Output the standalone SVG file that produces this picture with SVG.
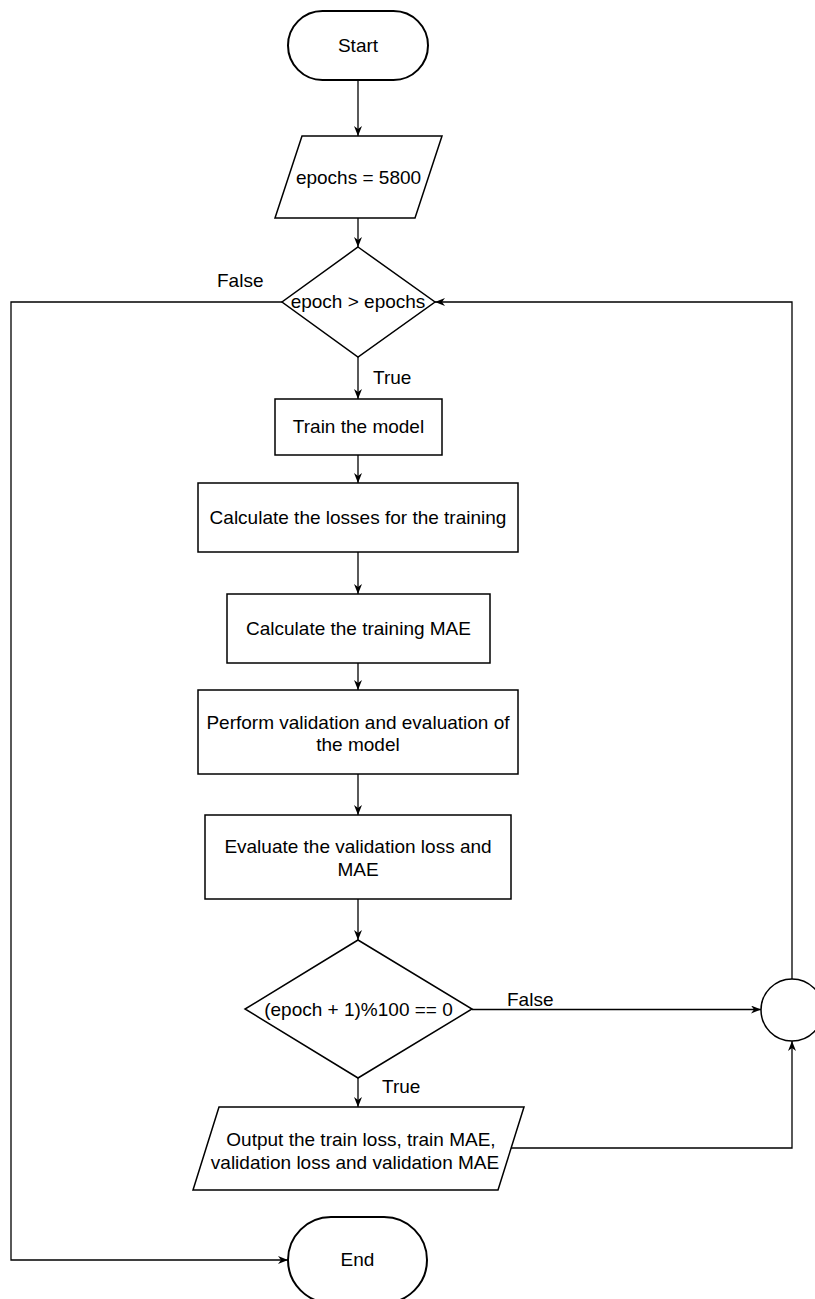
<svg xmlns="http://www.w3.org/2000/svg" width="815" height="1299" viewBox="0 0 815 1299">
<style>
.shape{fill:#fff;stroke:#000;stroke-width:1.5}
.term{fill:#fff;stroke:#000;stroke-width:2}
.conn{fill:none;stroke:#000;stroke-width:1.3}
text{font-family:"Liberation Sans",Arial,sans-serif;font-size:19px;fill:#000}
.c{text-anchor:middle}
</style>
<defs>
<marker id="arr" viewBox="0 0 10 8" refX="10" refY="4" markerWidth="10" markerHeight="8" orient="auto" markerUnits="userSpaceOnUse">
<path d="M0,0 L10,4 L0,8 L3,4 z" fill="#000"/>
</marker>
</defs>
<rect width="815" height="1299" fill="#fff"/>
<g id="connectors">
<path class="conn" d="M358,80 V136" marker-end="url(#arr)"/>
<path class="conn" d="M358,218 V247" marker-end="url(#arr)"/>
<path class="conn" d="M358,357 V399" marker-end="url(#arr)"/>
<path class="conn" d="M358,455 V483" marker-end="url(#arr)"/>
<path class="conn" d="M358,552 V594" marker-end="url(#arr)"/>
<path class="conn" d="M358,663 V690" marker-end="url(#arr)"/>
<path class="conn" d="M358,774 V815" marker-end="url(#arr)"/>
<path class="conn" d="M358,899 V940" marker-end="url(#arr)"/>
<path class="conn" d="M358,1078 V1107" marker-end="url(#arr)"/>
<path class="conn" d="M472,1009.5 H761" marker-end="url(#arr)"/>
<path class="conn" d="M511,1148 H792 V1041" marker-end="url(#arr)"/>
<path class="conn" d="M792,979 V302 H435" marker-end="url(#arr)"/>
<path class="conn" d="M282,302 H11 V1260 H288" marker-end="url(#arr)"/>
<text x="217" y="287">False</text>
<text x="373" y="384">True</text>
<text x="507" y="1006">False</text>
<text x="382" y="1093">True</text>
</g>
<g id="start">
<rect class="term" x="288" y="11" width="140" height="69" rx="34.5" ry="34.5"/>
<text class="c" x="358" y="52">Start</text>
</g>
<g id="epochs">
<polygon class="shape" points="302,136 442,136 415,218 275,218"/>
<text class="c" x="358.5" y="184">epochs = 5800</text>
</g>
<g id="cond1">
<polygon class="shape" points="358,247 435,302 358,357 282,302"/>
<text class="c" x="358" y="308">epoch &gt; epochs</text>
</g>
<g id="train">
<rect class="shape" x="275" y="399" width="167" height="56"/>
<text class="c" x="358.5" y="433">Train the model</text>
</g>
<g id="losses">
<rect class="shape" x="198" y="483" width="320" height="69"/>
<text class="c" x="358" y="524">Calculate the losses for the training</text>
</g>
<g id="mae">
<rect class="shape" x="227" y="594" width="263" height="69"/>
<text class="c" x="358.5" y="635">Calculate the training MAE</text>
</g>
<g id="validate">
<rect class="shape" x="198" y="690" width="320" height="84"/>
<text class="c" x="358" y="729">Perform validation and evaluation of</text>
<text class="c" x="358" y="751">the model</text>
</g>
<g id="evaluate">
<rect class="shape" x="205" y="815" width="306" height="84"/>
<text class="c" x="358" y="853">Evaluate the validation loss and</text>
<text class="c" x="358" y="876">MAE</text>
</g>
<g id="cond2">
<polygon class="shape" points="358,940 472,1009 358,1078 245,1009"/>
<text class="c" x="358.5" y="1016">(epoch + 1)%100 == 0</text>
</g>
<g id="output">
<polygon class="shape" points="219,1107 524,1107 498,1190 193,1190"/>
<text class="c" x="361" y="1145.5">Output the train loss, train MAE,</text>
<text class="c" x="355" y="1168.5">validation loss and validation MAE</text>
</g>
<g id="junction">
<circle class="shape" cx="792" cy="1010" r="31"/>
</g>
<g id="end">
<rect class="term" x="288" y="1217" width="139" height="86" rx="43" ry="43"/>
<text class="c" x="357.5" y="1266">End</text>
</g>
</svg>
